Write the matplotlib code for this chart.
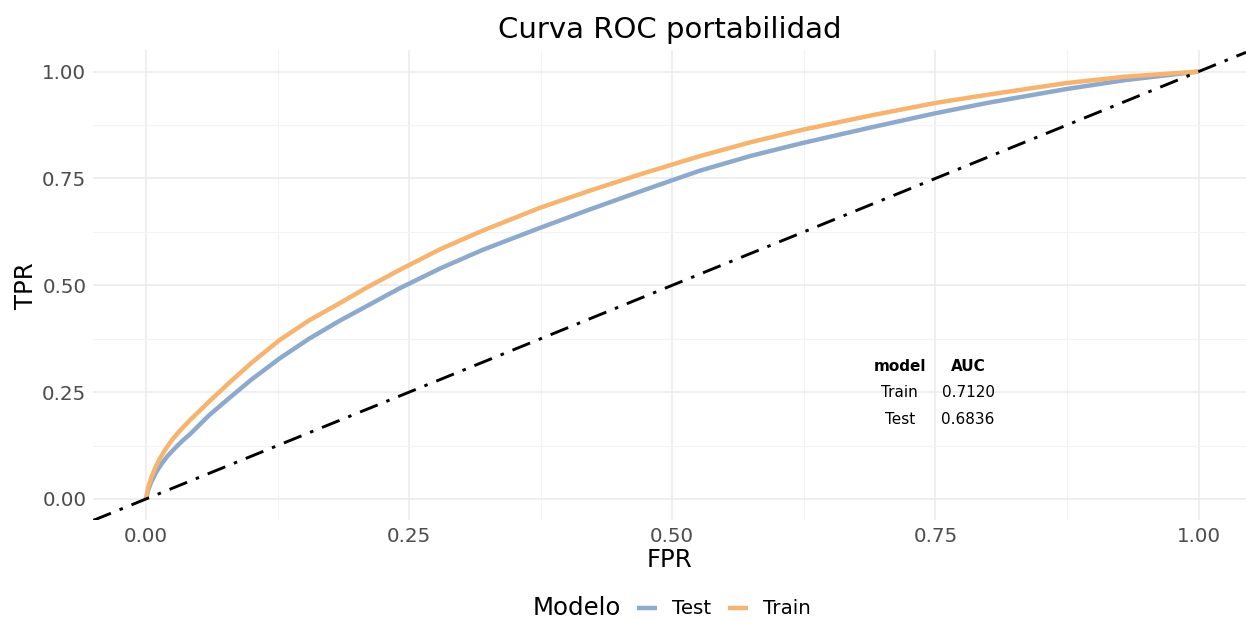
import numpy as np
import matplotlib
matplotlib.use("Agg")
import matplotlib.pyplot as plt
from matplotlib.lines import Line2D

# curvas ROC
fpr_train = [0, 0.002, 0.005, 0.009, 0.013, 0.019, 0.025, 0.033, 0.042, 0.06, 0.08, 0.1, 0.127, 0.155,
             0.184, 0.21, 0.241, 0.28, 0.32, 0.374, 0.42, 0.47, 0.526, 0.575, 0.624, 0.69, 0.751, 0.8,
             0.874, 0.93, 1.0]
tpr_train = [0, 0.026, 0.05, 0.074, 0.094, 0.118, 0.139, 0.162, 0.185, 0.228, 0.274, 0.318, 0.372, 0.418,
             0.458, 0.495, 0.536, 0.585, 0.628, 0.681, 0.72, 0.76, 0.802, 0.835, 0.864, 0.898, 0.927, 0.946,
             0.973, 0.988, 1.0]
fpr_test = [0, 0.002, 0.005, 0.01, 0.015, 0.021, 0.028, 0.035, 0.042, 0.06, 0.08, 0.1, 0.127, 0.155,
            0.184, 0.241, 0.28, 0.32, 0.374, 0.42, 0.47, 0.526, 0.575, 0.624, 0.69, 0.751, 0.8, 0.874,
            0.93, 1.0]
tpr_test = [0, 0.02, 0.04, 0.064, 0.083, 0.102, 0.12, 0.137, 0.152, 0.196, 0.238, 0.279, 0.329, 0.375,
            0.417, 0.493, 0.54, 0.583, 0.634, 0.676, 0.72, 0.768, 0.803, 0.833, 0.87, 0.903, 0.927, 0.959,
            0.98, 1.0]

tabla_modelos = ["Train", "Test"]
tabla_auc = ["0.7120", "0.6836"]
ticks = [0.0, 0.25, 0.5, 0.75, 1.0]
tick_labels = ["0.00", "0.25", "0.50", "0.75", "1.00"]

col_test = "#8DA9CB"
col_train = "#F6B46E"

W, H = 1246, 618
fig = plt.figure(figsize=(W / 100, H / 100), dpi=100)
x0, x1 = 93.35, 1246.0
y0, y1 = 520.35, 50.2
ax = fig.add_axes([x0 / W, (H - y0) / H, (x1 - x0) / W, (y0 - y1) / H])
ax.set_xlim(-0.05, 1.045)
ax.set_ylim(-0.05, 1.05)

for s in ax.spines.values():
    s.set_visible(False)
ax.set_xticks(ticks)
ax.set_xticklabels(tick_labels)
ax.set_yticks(ticks)
ax.set_yticklabels(tick_labels)
ax.set_xticks([0.125, 0.375, 0.625, 0.875], minor=True)
ax.set_yticks([0.125, 0.375, 0.625, 0.875], minor=True)
ax.tick_params(which="both", length=0, labelsize=14.3, labelcolor="#4d4d4d", pad=5)
ax.grid(which="major", color="#ebebeb", lw=1.1)
ax.grid(which="minor", color="#f3f3f3", lw=0.8)
ax.set_axisbelow(True)

ax.plot(fpr_test, tpr_test, color=col_test, lw=3.2, solid_capstyle="butt", solid_joinstyle="round")
ax.plot(fpr_train, tpr_train, color=col_train, lw=3.2, solid_capstyle="butt", solid_joinstyle="round")
ax.axline((0, 0), slope=1, color="black", lw=2.1, dashes=(6.5, 3.2, 1.2, 3.2))

# tabla de AUC
cx_model, cx_auc = 0.716, 0.781
ax.text(cx_model, 0.311, "model", ha="center", va="center", fontsize=11, fontweight="bold")
ax.text(cx_auc, 0.311, "AUC", ha="center", va="center", fontsize=11, fontweight="bold")
for i, (m, a) in enumerate(zip(tabla_modelos, tabla_auc)):
    yy = 0.248 - i * 0.063
    ax.text(cx_model, yy, m, ha="center", va="center", fontsize=11)
    ax.text(cx_auc, yy, a, ha="center", va="center", fontsize=11)

ax.set_title("Curva ROC portabilidad", fontsize=21, pad=9)
ax.set_xlabel("FPR", fontsize=17.6, labelpad=1)
ax.set_ylabel("TPR", fontsize=17.6, labelpad=3)

# leyenda inferior estilo ggplot
ly = 1 - 608 / H
fig.text(533 / W, ly, "Modelo", fontsize=17.6, ha="left", va="center")
items = [("Test", col_test, 637, 672), ("Train", col_train, 728, 763)]
for lab, col, lx, tx in items:
    fig.add_artist(Line2D([lx / W, (lx + 20) / W], [ly, ly], color=col, lw=3.2,
                          transform=fig.transFigure, solid_capstyle="butt"))
    fig.text(tx / W, ly, lab, fontsize=14.3, ha="left", va="center")

fig.savefig("out.png", dpi=100, facecolor="white")
